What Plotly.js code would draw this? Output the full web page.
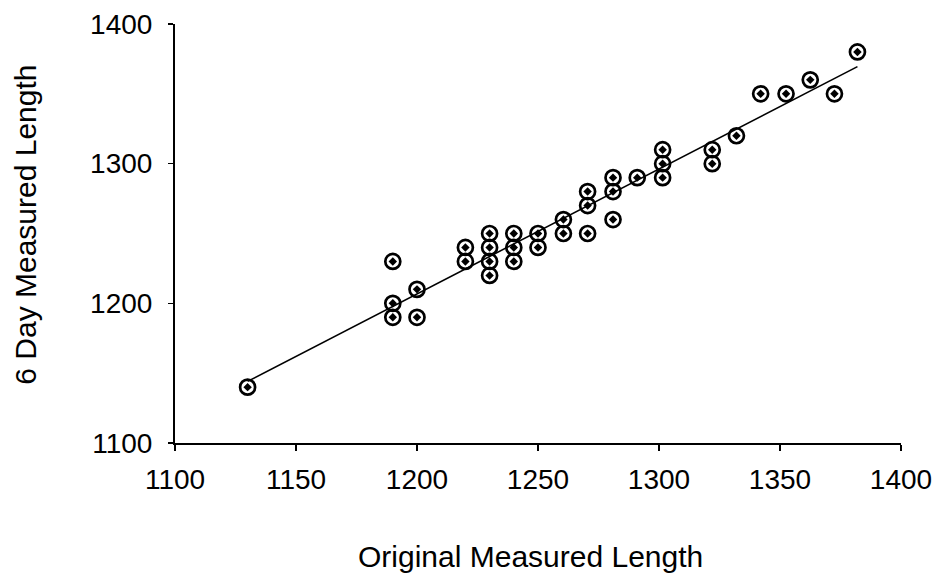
<!DOCTYPE html>
<html>
<head>
<meta charset="utf-8">
<script src="https://cdn.plot.ly/plotly-3.0.1.min.js"></script>
<style>html,body{margin:0;padding:0;background:#fff;}#chart{width:938px;height:579px;}</style>
</head>
<body>
<div id="chart"></div>
<script>
// Original measured length (x) and 6-day measured length (y)
const originalLength = [
  1130,
  1190, 1190, 1190,
  1200, 1200,
  1220, 1220,
  1230, 1230, 1230, 1230,
  1240, 1240, 1240,
  1250, 1250,
  1260.5, 1260.5,
  1270.5, 1270.5, 1270.5,
  1281, 1281, 1281,
  1291,
  1301.5, 1301.5, 1301.5,
  1322, 1322,
  1332,
  1342,
  1352.5,
  1362.5,
  1372.5,
  1382
];
const sixDayLength = [
  1140,
  1230, 1200, 1190,
  1210, 1190,
  1240, 1230,
  1250, 1240, 1230, 1220,
  1250, 1240, 1230,
  1250, 1240,
  1260, 1250,
  1280, 1270, 1250,
  1290, 1280, 1260,
  1290,
  1310, 1300, 1290,
  1310, 1300,
  1320,
  1350,
  1350,
  1360,
  1350,
  1380
];
const xTicks = [1100, 1150, 1200, 1250, 1300, 1350, 1400];
const yTicks = [1100, 1200, 1300, 1400];
const xTitle = 'Original Measured Length';
const yTitle = '6 Day Measured Length';

// least-squares trend line
const n = originalLength.length;
let sx = 0, sy = 0, sxx = 0, sxy = 0;
for (let i = 0; i < n; i++) {
  sx += originalLength[i]; sy += sixDayLength[i];
  sxx += originalLength[i] * originalLength[i];
  sxy += originalLength[i] * sixDayLength[i];
}
const slope = (n * sxy - sx * sy) / (n * sxx - sx * sx);
const intercept = (sy - slope * sx) / n;
const xMin = Math.min(...originalLength), xMax = Math.max(...originalLength);
const fitX = [xMin, xMax];
const fitY = fitX.map(v => intercept + slope * v);

const fam = '"Liberation Sans", Arial, sans-serif';
const tickFont = {family: fam, color: '#000', size: 28};

const traces = [
  {x: fitX, y: fitY, mode: 'lines', line: {color: '#000', width: 1.6}, hoverinfo: 'skip'},
  {x: originalLength, y: sixDayLength, mode: 'markers',
   marker: {symbol: 'circle-open', size: 15, color: '#000', line: {color: '#000', width: 2.7}}},
  {x: originalLength, y: sixDayLength, mode: 'markers',
   marker: {symbol: 'diamond', size: 6.5, color: '#000', line: {width: 0}}}
];

const layout = {
  width: 938, height: 579,
  margin: {l: 174.5, r: 37, t: 24, b: 136, pad: 0},
  paper_bgcolor: '#fff', plot_bgcolor: '#fff',
  showlegend: false,
  font: tickFont,
  xaxis: {
    range: [1100, 1400], tickvals: xTicks, ticktext: xTicks.map(String),
    showgrid: false, zeroline: false, showline: true, linecolor: '#000', linewidth: 2,
    ticks: 'outside', ticklen: 6, tickwidth: 1.5, tickcolor: '#000',
    tickfont: tickFont, ticklabelstandoff: 4
  },
  yaxis: {
    range: [1100, 1400], tickvals: yTicks, ticktext: yTicks.map(String),
    showgrid: false, zeroline: false, showline: true, linecolor: '#000', linewidth: 2,
    ticks: 'outside', ticklen: 5, tickwidth: 1.5, tickcolor: '#000',
    tickfont: tickFont, ticklabelstandoff: 10
  },
  annotations: [
    {text: xTitle, xref: 'paper', yref: 'paper', x: 0.489, y: -0.272,
     xanchor: 'center', yanchor: 'middle', showarrow: false,
     font: {family: fam, color: '#000', size: 30}},
    {text: yTitle, xref: 'paper', yref: 'paper', x: -0.2058, y: 0.52,
     xanchor: 'center', yanchor: 'middle', showarrow: false, textangle: -90,
     font: {family: fam, color: '#000', size: 30}}
  ]
};

Plotly.newPlot('chart', traces, layout, {displayModeBar: false, staticPlot: true});
</script>
</body>
</html>
